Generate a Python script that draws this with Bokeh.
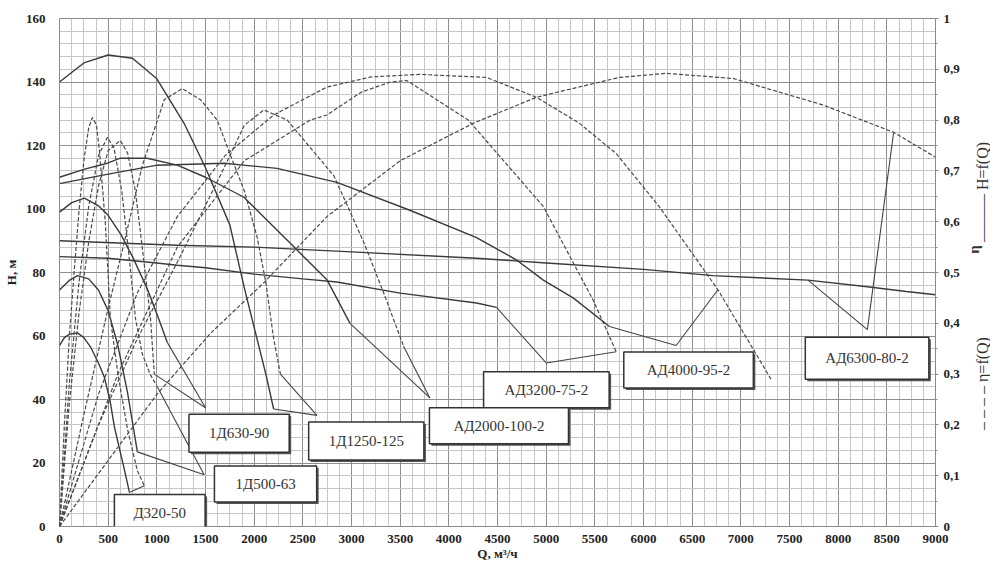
import math
from bokeh.plotting import figure
from bokeh.layouts import row
from bokeh.models import (Range1d, LinearAxis, SingleIntervalTicker, FixedTicker,
                          CustomJSTickFormatter, Label)
from bokeh.embed import file_html
from bokeh.resources import INLINE

# ---------------- data ----------------
names = ["Д320-50", "1Д500-63", "1Д630-90", "1Д1250-125",
         "АД2000-100-2", "АД3200-75-2", "АД4000-95-2", "АД6300-80-2"]

# H = f(Q), m
q_h_d320 = [0, 50, 100, 185, 250, 318, 400, 461, 520, 564, 620, 666, 717]
h_d320 = [57, 59.5, 60.5, 61, 59.5, 56.6, 51.5, 47, 39.5, 31.4, 24, 18, 11]
q_h_d500 = [0, 100, 185, 300, 400, 500, 600, 700, 800]
h_d500 = [74.5, 77.5, 79, 78, 74.5, 68, 57, 42, 23.5]
q_h_d630 = [0, 125, 256, 400, 500, 630, 750, 900, 1000, 1107]
h_d630 = [99, 102, 103.4, 101, 98, 92, 85, 75, 67, 58]
q_h_d1250 = [0, 250, 500, 750, 1000, 1280, 1500, 1750, 1900, 2030, 2120, 2200]
h_d1250 = [140, 146, 148.5, 147.5, 141, 127, 113, 95, 75, 59, 48, 37]
q_h_ad2000 = [0, 250, 500, 625, 900, 1210, 1500, 1895, 2410, 2750, 2985]
h_ad2000 = [110, 112.5, 114.5, 116, 116, 113.8, 110, 103.7, 88, 77.6, 64]
q_h_ad3200 = [0, 500, 1000, 1210, 1500, 2000, 2500, 2850, 3500, 4285, 4490]
h_ad3200 = [85, 84.5, 83, 82.3, 81.5, 79.5, 78, 77, 73.5, 70.4, 69]
q_h_ad4000 = [0, 500, 1005, 1690, 2235, 2850, 3600, 4285, 4693, 4971, 5277, 5650]
h_ad4000 = [108, 111, 113.8, 114.4, 112.8, 108.4, 99.6, 91, 84, 77.6, 72, 63]
q_h_ad6300 = [0, 1210, 2000, 3000, 4285, 5000, 6000, 6714, 7690, 8300, 8700, 9000]
h_ad6300 = [90, 88.6, 88, 86.5, 84.5, 83, 81, 79, 77.6, 75.5, 74, 73]

# eta = f(Q)
q_e_d320 = [0, 50, 100, 150, 200, 250, 300, 338, 380, 410, 470, 523, 600, 700, 800, 871]
e_d320 = [0, 0.2, 0.37, 0.5, 0.62, 0.72, 0.785, 0.805, 0.79, 0.74, 0.6, 0.41, 0.3, 0.19, 0.11, 0.08]
q_e_d500 = [0, 100, 200, 300, 400, 492, 560, 640, 710, 780, 850, 930, 1005]
e_d500 = [0, 0.28, 0.48, 0.63, 0.73, 0.766, 0.745, 0.66, 0.54, 0.41, 0.34, 0.3, 0.275]
q_e_d630 = [0, 100, 200, 300, 400, 500, 625, 700, 780, 850, 935, 974]
e_d630 = [0, 0.24, 0.42, 0.56, 0.67, 0.74, 0.76, 0.735, 0.66, 0.55, 0.41, 0.3]
q_e_d1250 = [0, 250, 500, 666, 850, 1076, 1260, 1450, 1620, 1750, 1900, 2030, 2120, 2200, 2270]
e_d1250 = [0, 0.22, 0.43, 0.56, 0.71, 0.84, 0.862, 0.84, 0.8, 0.734, 0.66, 0.57, 0.48, 0.37, 0.3]
q_e_ad2000 = [0, 400, 800, 1210, 1650, 1900, 2100, 2340, 2820, 3125, 3330, 3535]
e_ad2000 = [0, 0.2, 0.37, 0.52, 0.69, 0.79, 0.82, 0.8, 0.69, 0.56, 0.46, 0.355]
q_e_ad3200 = [0, 600, 1210, 1900, 2575, 2747, 3100, 3400, 3567, 4200, 4971, 5484, 5720]
e_ad3200 = [0, 0.3, 0.55, 0.72, 0.8, 0.81, 0.855, 0.875, 0.878, 0.8, 0.63, 0.445, 0.344]
q_e_ad4000 = [0, 400, 800, 1210, 1700, 2200, 2747, 3200, 3700, 4387, 4900, 5340, 5720, 6160, 6765, 7310]
e_ad4000 = [0, 0.26, 0.46, 0.61, 0.73, 0.81, 0.865, 0.885, 0.89, 0.884, 0.845, 0.794, 0.734, 0.63, 0.466, 0.29]
q_e_ad6300 = [0, 500, 1000, 1550, 2100, 2747, 3500, 4254, 4900, 5750, 6232, 6920, 7840, 8570, 9000]
e_ad6300 = [0, 0.13, 0.26, 0.38, 0.48, 0.61, 0.72, 0.794, 0.845, 0.884, 0.892, 0.882, 0.83, 0.776, 0.727]

x_ticks_step = 500
h_ticks_step = 20
eta_ticks = [0, 0.1, 0.2, 0.3, 0.4, 0.5, 0.6, 0.7, 0.8, 0.9, 1.0]

h_series = [(q_h_d320, h_d320), (q_h_d500, h_d500), (q_h_d630, h_d630), (q_h_d1250, h_d1250),
            (q_h_ad2000, h_ad2000), (q_h_ad3200, h_ad3200), (q_h_ad4000, h_ad4000), (q_h_ad6300, h_ad6300)]
e_series = [(q_e_d320, e_d320), (q_e_d500, e_d500), (q_e_d630, e_d630), (q_e_d1250, e_d1250),
            (q_e_ad2000, e_ad2000), (q_e_ad3200, e_ad3200), (q_e_ad4000, e_ad4000), (q_e_ad6300, e_ad6300)]

# ---------------- layout of callouts (positions, not data) ----------------
callouts = [
    dict(x=1030, y=4.1, px=19, py=11, ax=717, ay=10.7, src=[("H", 717), ("eta", 871)]),
    dict(x=2117, y=13.4, px=21, py=10, ax=1486, ay=16.3, src=[("H", 800), ("eta", 1005)]),
    dict(x=1845, y=29.4, px=20, py=11, ax=1500, ay=37.4, src=[("H", 1107), ("eta", 974)]),
    dict(x=3152, y=26.9, px=20, py=11, ax=2645, ay=35, src=[("H", 2200), ("eta", 2270)]),
    dict(x=4515, y=31.7, px=24, py=10, ax=3805, ay=40.5, src=[("H", 2985), ("eta", 3535)]),
    dict(x=5002, y=43.1, px=21, py=10, ax=5000, ay=51.5, src=[("H", 4490), ("eta", 5720)]),
    dict(x=6463, y=49.3, px=23, py=10, ax=6335, ay=57, src=[("H", 5650), ("eta", 6765)]),
    dict(x=8297, y=53.0, px=20, py=13, ax=8300, ay=62, src=[("H", 7690), ("eta", 8570)]),
]
draw_order = [0, 1, 2, 3, 5, 4, 6, 7]

H_MAX = 160
SERIF = "Liberation Serif"
FIG_H = 565
MAIN_W = 967
SIDE_W = 23

p = figure(width=MAIN_W, height=FIG_H, output_backend="svg", toolbar_location=None,
           x_range=Range1d(0, 9000), y_range=Range1d(0, H_MAX),
           min_border_left=54, min_border_right=32, min_border_top=18, min_border_bottom=39,
           background_fill_color="white", border_fill_color="white")
p.extra_y_ranges = {"eta": Range1d(0, 1)}
p.outline_line_color = "#8a8a8a"

# axes
p.xaxis.ticker = SingleIntervalTicker(interval=x_ticks_step, num_minor_ticks=4)
p.yaxis.ticker = SingleIntervalTicker(interval=h_ticks_step, num_minor_ticks=5)
for ax in (p.xaxis[0], p.yaxis[0]):
    ax.axis_line_color = None
    ax.major_tick_line_color = None
    ax.minor_tick_line_color = None
    ax.major_tick_out = 0
    ax.minor_tick_out = 0
    ax.major_label_text_font = SERIF
    ax.major_label_text_font_style = "bold"
    ax.major_label_text_font_size = "13px"
    ax.major_label_text_color = "#222"
    ax.axis_label_text_font = SERIF
    ax.axis_label_text_font_style = "bold"
    ax.axis_label_text_font_size = "13px"
    ax.axis_label_text_color = "#222"
p.xaxis.axis_label = "Q, м³/ч"
p.yaxis.axis_label = "H, м"
p.xaxis.major_label_standoff = 8
p.xaxis.axis_label_standoff = 0
p.yaxis.major_label_standoff = 14
p.yaxis.axis_label_standoff = 4

eta_axis = LinearAxis(y_range_name="eta",
                      ticker=FixedTicker(ticks=eta_ticks,
                                         minor_ticks=[round(t + 0.05, 2) for t in eta_ticks[:-1]]),
                      formatter=CustomJSTickFormatter(code="""
                          if (Math.abs(tick) < 1e-9) return '0';
                          if (Math.abs(tick - 1) < 1e-9) return '1';
                          return tick.toFixed(1).replace('.', ',');"""))
eta_axis.axis_line_color = "#8a8a8a"
eta_axis.major_tick_line_color = "#8a8a8a"
eta_axis.minor_tick_line_color = "#8a8a8a"
eta_axis.major_tick_in = 0
eta_axis.major_tick_out = 3
eta_axis.minor_tick_in = 0
eta_axis.minor_tick_out = 2
eta_axis.major_label_standoff = 5
eta_axis.major_label_text_font = SERIF
eta_axis.major_label_text_font_style = "bold"
eta_axis.major_label_text_font_size = "13px"
eta_axis.major_label_text_color = "#222"
p.add_layout(eta_axis, "right")

# grid
for g in (p.xgrid[0], p.ygrid[0]):
    g.grid_line_color = "#8e8e8e"
    g.grid_line_width = 1
    g.minor_grid_line_color = "#c6c6c6"
    g.minor_grid_line_width = 1

# curves
LINE = "#3a3a3a"
for q, h in h_series:
    p.line(q, h, line_color=LINE, line_width=1.4)
for q, e in e_series:
    p.line(q, e, y_range_name="eta", line_color="#4a4a4a", line_width=1.2, line_dash="4 2")

# leader lines
lx, ly = [], []
for i, c in enumerate(callouts):
    for kind, qv in c["src"]:
        if kind == "H":
            q, v = h_series[i]
            yv = v[q.index(qv)]
        else:
            q, v = e_series[i]
            yv = v[q.index(qv)] * H_MAX
        lx.append([qv, c["ax"]])
        ly.append([yv, c["ay"]])
p.multi_line(lx, ly, line_color="#444", line_width=1.1)

# callout boxes
for i in draw_order:
    c = callouts[i]
    pad = dict(left=c["px"], right=c["px"], top=c["py"], bottom=c["py"])
    p.add_layout(Label(x=c["x"], y=c["y"], x_offset=2, y_offset=-2, text=names[i],
                       text_align="center", text_baseline="middle",
                       text_font=SERIF, text_font_size="15px", text_color="#555",
                       background_fill_color="#555", padding=pad))
    p.add_layout(Label(x=c["x"], y=c["y"], text=names[i],
                       text_align="center", text_baseline="middle",
                       text_font=SERIF, text_font_size="15px", text_color="#333",
                       background_fill_color="white", border_line_color="#333",
                       border_line_width=1.5, padding=pad))

# narrow side panel with the rotated axis title and legend (reads bottom-to-top)
side = figure(width=SIDE_W, height=FIG_H, output_backend="svg", toolbar_location=None,
              x_range=Range1d(0, SIDE_W), y_range=Range1d(0, FIG_H),
              x_axis_type=None, y_axis_type=None, min_border=0,
              background_fill_color="white", border_fill_color="white")
side.outline_line_color = None
side_texts = [
    dict(text="η", x=6, y=FIG_H - 257, size="15px", style="bold"),
    dict(text="——— H=f(Q)", x=15, y=FIG_H - 193, size="16px", style="normal"),
    dict(text="– – – – η=f(Q)", x=15, y=FIG_H - 406, size="16px", style="normal"),
]
for t in side_texts:
    side.add_layout(Label(x=t["x"], y=t["y"], text=t["text"], angle=math.pi / 2,
                          text_align="center", text_baseline="middle",
                          text_font=SERIF, text_font_size=t["size"],
                          text_font_style=t["style"], text_color="#333"))

layout = row(p, side, spacing=0)
open("out.html", "w").write(file_html(layout, INLINE))
